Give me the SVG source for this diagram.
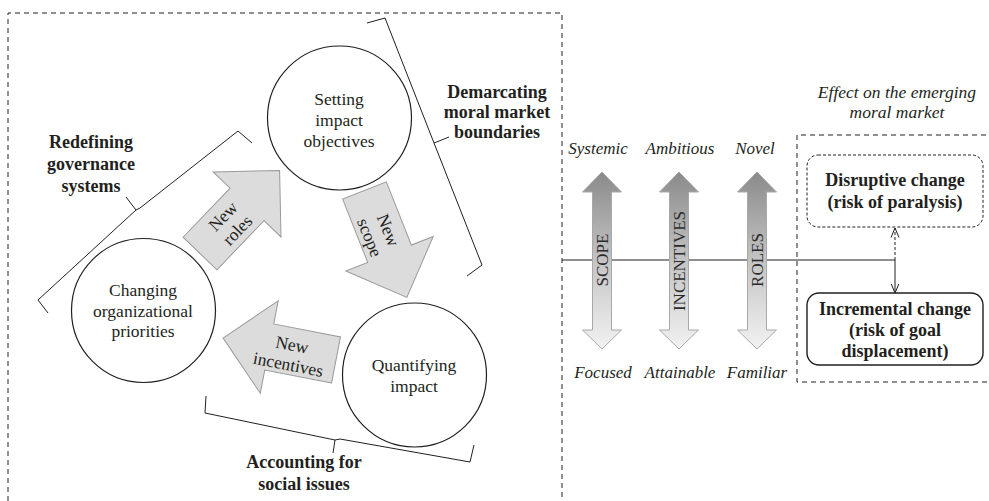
<svg xmlns="http://www.w3.org/2000/svg" width="989" height="501" viewBox="0 0 989 501">
  <style>
    text { font-family: "Liberation Serif", "Times New Roman", serif; fill: #231f20; }
    .lbl { font-size: 17.5px; text-anchor: middle; }
    .bold { font-size: 18px; font-weight: bold; text-anchor: middle; }
    .ital { font-size: 17px; font-style: italic; text-anchor: middle; }
    .vert { font-size: 17px; text-anchor: middle; fill: #2a2a2a; }
    .circle { fill: #ffffff; stroke: #231f20; stroke-width: 1.2; }
    .flow { fill: #dcdcdc; stroke: #9a9a9a; stroke-width: 1; }
    .brace { fill: none; stroke: #231f20; stroke-width: 1; }
    .frame { fill: none; stroke: #231f20; stroke-width: 1; stroke-dasharray: 5 4; }
    .dbl { fill: url(#shade); stroke: #a8a8a8; stroke-width: 1; }
    .link { fill: none; stroke: #231f20; stroke-width: 1; }
  </style>
  <defs>
    <linearGradient id="shade" x1="0" y1="0" x2="0" y2="1">
      <stop offset="0" stop-color="#8a8a8a"/>
      <stop offset="0.5" stop-color="#c4c4c4"/>
      <stop offset="1" stop-color="#f2f2f2"/>
    </linearGradient>
    <!-- block arrow pointing along +x, tail centre at the origin -->
    <polygon id="block" points="0,-23.5 68,-23.5 68,-47 115,0 68,47 68,23.5 0,23.5"/>
    <!-- two-headed vertical arrow, centred on x = 0 -->
    <polygon id="twoway" points="0,172 19.5,192 9.5,192 9.5,330 19.5,330 0,349 -19.5,330 -9.5,330 -9.5,192 -19.5,192"/>
    <marker id="open" viewBox="0 0 10 10" refX="9.5" refY="5" markerWidth="10" markerHeight="10" markerUnits="userSpaceOnUse" orient="auto">
      <path d="M0,1 L9.5,5 L0,9" fill="none" stroke="#231f20" stroke-width="1"/>
    </marker>
  </defs>

  <!-- dashed frames -->
  <path class="frame" d="M8,501 V13 H562 V501"/>
  <path class="frame" d="M995,135 H797 V382 H995"/>

  <!-- braces -->
  <g id="braces">
    <path class="brace" d="M48,313 L38,300 L136,210 L126,197 M136,210 L140,208 L238,131 L252,143"/>
    <path class="brace" d="M367,23 L385,18 L434,143 L449,137 M434,143 L482,265 L467,276"/>
    <path class="brace" d="M206,396 L205,413 L335,440 L333,453 M335,440 L340,439 L470,462 L474,445"/>
  </g>

  <!-- block arrows of the cycle -->
  <g id="flows">
    <g id="flow-roles">
      <use href="#block" class="flow" transform="translate(200,253.5) rotate(-46.2)"/>
      <g transform="translate(230.5,223.5) rotate(-46)">
        <text class="lbl" x="0" y="-4.5">New</text>
        <text class="lbl" x="0" y="15.5">roles</text>
      </g>
    </g>
    <g id="flow-scope">
      <use href="#block" class="flow" transform="translate(364.5,190.5) rotate(68.4)"/>
      <g transform="translate(378.5,234) rotate(68)">
        <text class="lbl" x="0" y="-4.5">New</text>
        <text class="lbl" x="0" y="15.5">scope</text>
      </g>
    </g>
    <g id="flow-incentives">
      <use href="#block" class="flow" transform="translate(336,360) rotate(191)"/>
      <g transform="translate(290,355) rotate(11)">
        <text class="lbl" x="0" y="-4.5">New</text>
        <text class="lbl" x="0" y="15.5">incentives</text>
      </g>
    </g>
  </g>

  <!-- cycle stages -->
  <g id="stage-objectives">
    <circle class="circle" cx="339.5" cy="118" r="72"/>
    <text class="lbl" x="339" y="105">Setting</text>
    <text class="lbl" x="339" y="126">impact</text>
    <text class="lbl" x="339" y="147">objectives</text>
  </g>
  <g id="stage-priorities">
    <circle class="circle" cx="143.5" cy="310.5" r="72"/>
    <text class="lbl" x="143" y="296">Changing</text>
    <text class="lbl" x="143" y="316.5">organizational</text>
    <text class="lbl" x="143" y="337">priorities</text>
  </g>
  <g id="stage-quantifying">
    <circle class="circle" cx="414.5" cy="375" r="72"/>
    <text class="lbl" x="414" y="371">Quantifying</text>
    <text class="lbl" x="414" y="392">impact</text>
  </g>

  <!-- brace labels -->
  <g id="label-governance">
    <text class="bold" x="91" y="148">Redefining</text>
    <text class="bold" x="91" y="170">governance</text>
    <text class="bold" x="91" y="192">systems</text>
  </g>
  <g id="label-boundaries">
    <text class="bold" x="497" y="98">Demarcating</text>
    <text class="bold" x="497" y="118">moral market</text>
    <text class="bold" x="497" y="138">boundaries</text>
  </g>
  <g id="label-accounting">
    <text class="bold" x="304" y="468">Accounting for</text>
    <text class="bold" x="304" y="490">social issues</text>
  </g>

  <!-- connectors -->
  <g id="connectors">
    <path class="link" d="M562,260 H895 V293" marker-end="url(#open)"/>
    <path class="link" d="M895,260 V228" stroke-dasharray="3 2" marker-end="url(#open)"/>
  </g>

  <!-- dimension scales -->
  <g id="scale-scope">
    <use href="#twoway" class="dbl" x="602"/>
    <text class="vert" transform="translate(608,260) rotate(-90)">SCOPE</text>
    <text class="ital" x="598" y="154">Systemic</text>
    <text class="ital" x="603" y="378">Focused</text>
  </g>
  <g id="scale-incentives">
    <use href="#twoway" class="dbl" x="679"/>
    <text class="vert" transform="translate(685,261) rotate(-90)">INCENTIVES</text>
    <text class="ital" x="680" y="154">Ambitious</text>
    <text class="ital" x="680" y="378">Attainable</text>
  </g>
  <g id="scale-roles">
    <use href="#twoway" class="dbl" x="757"/>
    <text class="vert" transform="translate(763,260) rotate(-90)">ROLES</text>
    <text class="ital" x="755" y="154">Novel</text>
    <text class="ital" x="757" y="378">Familiar</text>
  </g>

  <!-- effect on the market -->
  <g id="effect-title">
    <text class="ital" x="897" y="98" style="font-size:17.5px">Effect on the emerging</text>
    <text class="ital" x="897" y="118" style="font-size:17.5px">moral market</text>
  </g>
  <g id="effect-disruptive">
    <rect x="807" y="155" width="176" height="72" rx="11" fill="#ffffff" stroke="#231f20" stroke-width="1" stroke-dasharray="3 2"/>
    <text class="bold" x="895" y="186">Disruptive change</text>
    <text class="bold" x="895" y="208">(risk of paralysis)</text>
  </g>
  <g id="effect-incremental">
    <rect x="807" y="293" width="176" height="72" rx="12" fill="#ffffff" stroke="#231f20" stroke-width="1.4"/>
    <text class="bold" x="895" y="315">Incremental change</text>
    <text class="bold" x="895" y="336">(risk of goal</text>
    <text class="bold" x="895" y="357">displacement)</text>
  </g>
</svg>
